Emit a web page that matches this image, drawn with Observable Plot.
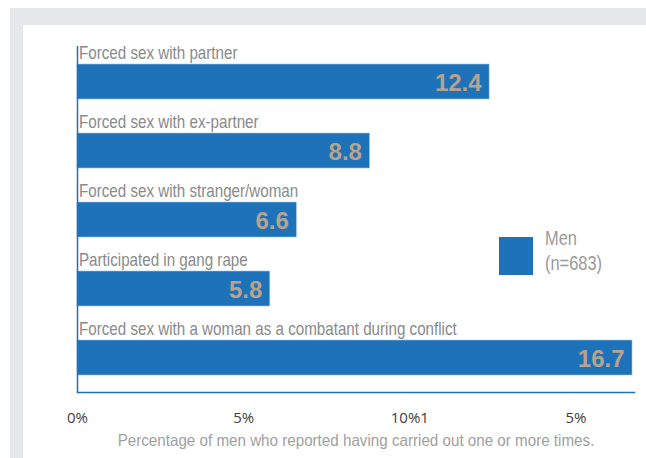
<!DOCTYPE html>
<html>
<head>
<meta charset="utf-8">
<script src="https://cdn.jsdelivr.net/npm/d3@7"></script>
<script src="https://cdn.jsdelivr.net/npm/@observablehq/plot@0.6"></script>
<style>
  body { margin: 0; background: #fff; }
  #wrap { position: relative; width: 646px; height: 458px; overflow: hidden; }
  .bg1 { position: absolute; left: 10px; top: 8px; right: 0; bottom: 0; background: #e6e7e8; }
  .bg2 { position: absolute; left: 23px; top: 25px; right: 0; bottom: 0; background: #fff; }
  #chart { position: absolute; left: 0; top: 0; }
  #legend { position: absolute; left: 499px; top: 226px; display: flex; align-items: flex-start;
            font-family: "Liberation Sans", Arial, sans-serif; font-size: 20px; color: #9a9a9a; }
  #legend .sw { width: 34px; height: 38px; background: #1e72ba; margin-top: 11px; margin-right: 12px; }
  #legend .txt { line-height: 25px; transform: scaleX(0.82); transform-origin: left top; white-space: nowrap; }
</style>
</head>
<body>
<div id="wrap">
  <div class="bg1"></div>
  <div class="bg2"></div>
  <div id="chart"></div>
  <div id="legend"><div class="sw"></div><div class="txt" id="legtxt"></div></div>
</div>
<script>
const categories = [
  "Forced sex with partner",
  "Forced sex with ex-partner",
  "Forced sex with stranger/woman",
  "Participated in gang rape",
  "Forced sex with a woman as a combatant during conflict"
];
const values = [12.4, 8.8, 6.6, 5.8, 16.7];
const tickValues = [0, 5, 10, 15];
const tickLabels = ["0%", "5%", "10%1", "5%"];
const seriesName = ["Men", "(n=683)"];
const axisTitle = "Percentage of men who reported having carried out one or more times.";

const data = categories.map((c, i) => ({label: c, value: values[i]}));
const blue = "#1e72ba";
const narrow = "'Liberation Sans', sans-serif";            // compressed after render
const narrow2 = "'Liberation Sans', Helvetica, sans-serif"; // compressed less after render
const bold = "'Liberation Sans', Arial, sans-serif";

document.getElementById("legtxt").innerHTML = seriesName.join("<br>");

const chart = Plot.plot({
  width: 646,
  height: 458,
  marginLeft: 77,
  marginRight: 12,
  marginTop: 46,
  marginBottom: 66,
  style: {background: "transparent", overflow: "visible"},
  x: {domain: [0, 16.76]},
  y: {domain: categories, range: [63, 376], paddingInner: 0.496, paddingOuter: 0, axis: null},
  marks: [
    Plot.barX(data, {x: "value", y: "label", fill: blue, stroke: "#9cc3e6", strokeWidth: 0.6}),
    Plot.ruleX([0], {stroke: blue, strokeWidth: 1.5}),
    Plot.frame({anchor: "bottom", stroke: blue, strokeWidth: 1.5}),
    Plot.text(data, {x: d => 0, y: "label", text: "label", textAnchor: "start", dx: 1.5, dy: -28.5,
      fill: "#8a8a8a", fontSize: 18.5, fontFamily: narrow}),
    Plot.text(data, {x: "value", y: "label", text: d => d.value.toFixed(1), textAnchor: "end", dx: -8, dy: 1.5,
      fill: "#b8a28c", fontSize: 24, fontWeight: "bold", fontFamily: bold}),
    Plot.axisX({ticks: tickValues, tickFormat: (d, i) => tickLabels[i], tickSize: 0, tickPadding: 20,
      fontSize: 15, fontFamily: "'Open Sans', sans-serif", color: "#404040", label: null}),
    Plot.text([axisTitle], {frameAnchor: "bottom", dy: 53, fill: "#a0a0a0", fontSize: 16.5, fontFamily: narrow2})
  ]
});
document.getElementById("chart").appendChild(chart);

// emulate a condensed face
function condense(fam, k) {
  chart.querySelectorAll(`g[font-family="${fam}"] text`).forEach(t => {
    const w = t.getComputedTextLength();
    t.setAttribute("textLength", (w * k).toFixed(1));
    t.setAttribute("lengthAdjust", "spacingAndGlyphs");
  });
}
condense(narrow, 0.82);
condense(narrow2, 0.92);
</script>
</body>
</html>
